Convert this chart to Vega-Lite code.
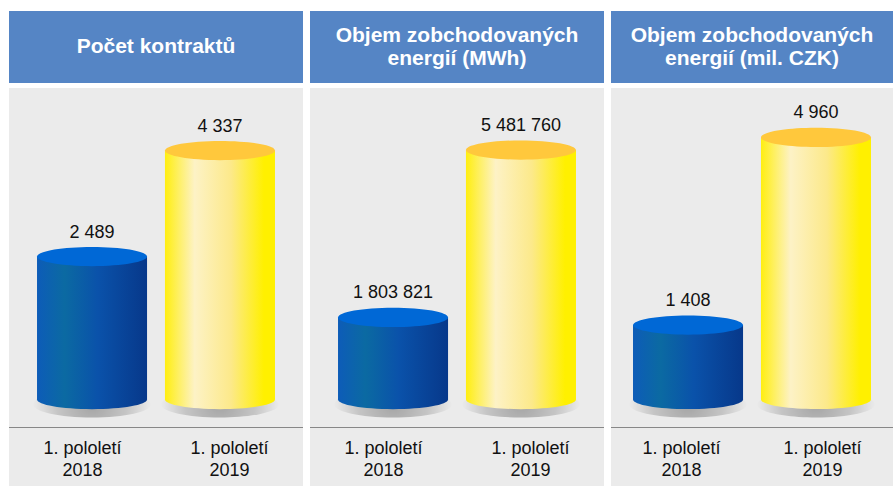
{
  "$schema": "https://vega.github.io/schema/vega-lite/v6.json",
  "background": "white",
  "padding": {"left": 9, "top": 11, "right": 0, "bottom": 0},
  "datasets": {
    "bars": [
      {"panel": "A", "period": "2018", "value": 2489, "label": "2 489", "category": ["1. pololetí", "2018"]},
      {"panel": "A", "period": "2019", "value": 4337, "label": "4 337", "category": ["1. pololetí", "2019"]},
      {"panel": "B", "period": "2018", "value": 1803821, "label": "1 803 821", "category": ["1. pololetí", "2018"]},
      {"panel": "B", "period": "2019", "value": 5481760, "label": "5 481 760", "category": ["1. pololetí", "2019"]},
      {"panel": "C", "period": "2018", "value": 1408, "label": "1 408", "category": ["1. pololetí", "2018"]},
      {"panel": "C", "period": "2019", "value": 4960, "label": "4 960", "category": ["1. pololetí", "2019"]}
    ],
    "headers": [
      {"panel": "A", "title": "Počet kontraktů"},
      {"panel": "B", "title": ["Objem zobchodovaných", "energií (MWh)"]},
      {"panel": "C", "title": ["Objem zobchodovaných", "energií (mil. CZK)"]}
    ]
  },
  "spacing": 7,
  "hconcat": [
    {
      "spacing": 5,
      "vconcat": [
        {
          "data": {"name": "headers"},
          "transform": [{"filter": "datum.panel == 'A'"}],
          "width": 294, "height": 72,
          "view": {"fill": "#5585c5", "stroke": null},
          "mark": {"type": "text", "font": "Liberation Sans, Arial, sans-serif", "fontWeight": "bold", "fontSize": 21, "color": "white", "lineHeight": 23, "align": "center", "baseline": "middle", "dy": 0},
          "encoding": {"text": {"field": "title"}}
        },
        {
          "spacing": 0,
          "vconcat": [
            {
              "data": {"name": "bars"},
              "transform": [{"filter": "datum.panel == 'A'"}],
              "width": 294, "height": 339,
              "view": {"fill": "#ebebeb", "stroke": null},
              "encoding": {
                "x": {"field": "period", "type": "nominal", "sort": null, "scale": {"paddingInner": 0.14, "paddingOuter": 0.219}, "axis": null},
                "y": {"field": "value", "type": "quantitative", "scale": {"domain": [-479, 5426]}, "axis": null}
              },
              "layer": [
                {
                  "mark": {"type": "point", "shape": "M -1 0 A 1 0.22 0 1 1 1 0 A 1 0.22 0 1 1 -1 0 Z", "size": 13900, "filled": true, "opacity": 1, "yOffset": 5,
                    "fill": {"gradient": "radial", "x1": 0.5, "y1": 0.5, "r1": 0, "x2": 0.5, "y2": 0.5, "r2": 0.5, "stops": [{"offset": 0, "color": "rgba(0,0,0,0.30)"}, {"offset": 0.6, "color": "rgba(0,0,0,0.16)"}, {"offset": 1, "color": "rgba(0,0,0,0)"}]}},
                  "encoding": {"y": {"datum": 0, "type": "quantitative"}}
                },
                {
                  "transform": [{"filter": "datum.period == '2018'"}],
                  "mark": {"type": "bar", "fill": {"gradient": "linear", "x1": 0, "y1": 0, "x2": 1, "y2": 0, "stops": [{"offset": 0, "color": "#0d5cb8"}, {"offset": 0.25, "color": "#0b6aa2"}, {"offset": 0.55, "color": "#0a52aa"}, {"offset": 1, "color": "#07388a"}]}},
                  "encoding": {"y2": {"datum": 0}}
                },
                {
                  "transform": [{"filter": "datum.period == '2019'"}],
                  "mark": {"type": "bar", "fill": {"gradient": "linear", "x1": 0, "y1": 0, "x2": 1, "y2": 0, "stops": [{"offset": 0, "color": "#ffee10"}, {"offset": 0.27, "color": "#fdf2c6"}, {"offset": 0.6, "color": "#fce98a"}, {"offset": 0.9, "color": "#fff000"}, {"offset": 1, "color": "#fff000"}]}},
                  "encoding": {"y2": {"datum": 0}}
                },
                {
                  "transform": [{"filter": "datum.period == '2018'"}],
                  "mark": {"type": "point", "shape": "M -1 0 A 1 0.175 0 1 1 1 0 A 1 0.175 0 1 1 -1 0 Z", "size": 12100, "filled": true, "opacity": 1, "fill": {"gradient": "linear", "x1": 0, "y1": 0, "x2": 1, "y2": 0, "stops": [{"offset": 0, "color": "#0d5cb8"}, {"offset": 0.25, "color": "#0b6aa2"}, {"offset": 0.55, "color": "#0a52aa"}, {"offset": 1, "color": "#07388a"}]}},
                  "encoding": {"y": {"datum": 0, "type": "quantitative"}}
                },
                {
                  "transform": [{"filter": "datum.period == '2019'"}],
                  "mark": {"type": "point", "shape": "M -1 0 A 1 0.175 0 1 1 1 0 A 1 0.175 0 1 1 -1 0 Z", "size": 12100, "filled": true, "opacity": 1, "fill": {"gradient": "linear", "x1": 0, "y1": 0, "x2": 1, "y2": 0, "stops": [{"offset": 0, "color": "#ffee10"}, {"offset": 0.27, "color": "#fdf2c6"}, {"offset": 0.6, "color": "#fce98a"}, {"offset": 0.9, "color": "#fff000"}, {"offset": 1, "color": "#fff000"}]}},
                  "encoding": {"y": {"datum": 0, "type": "quantitative"}}
                },
                {
                  "mark": {"type": "point", "shape": "M -1 0 A 1 0.175 0 1 1 1 0 A 1 0.175 0 1 1 -1 0 Z", "size": 12100, "filled": true, "opacity": 1},
                  "encoding": {"fill": {"condition": {"test": "datum.period == '2018'", "value": "#0068d6"}, "value": "#ffc83c"}}
                },
                {
                  "mark": {"type": "text", "baseline": "alphabetic", "dy": -19, "fontSize": 18, "font": "Liberation Sans, Arial, sans-serif", "color": "#111111"},
                  "encoding": {"text": {"field": "label"}}
                }
              ]
            },
            {
              "data": {"name": "bars"},
              "transform": [{"filter": "datum.panel == 'A'"}],
              "width": 294, "height": 59,
              "view": {"fill": "#ebebeb", "stroke": null},
              "mark": {"type": "text", "baseline": "middle", "dy": -8, "lineHeight": 22, "fontSize": 18, "font": "Liberation Sans, Arial, sans-serif", "color": "#111111"},
              "encoding": {
                "x": {"field": "period", "type": "nominal", "sort": null, "scale": {"paddingInner": 0.14, "paddingOuter": 0.219},
                  "axis": {"orient": "top", "title": null, "labels": false, "ticks": false, "grid": false, "domain": true, "domainDash": [1, 1], "domainColor": "#222222", "domainWidth": 1}},
                "text": {"field": "category"}
              }
            }
          ]
        }
      ]
    },
    {
      "spacing": 5,
      "vconcat": [
        {
          "data": {"name": "headers"},
          "transform": [{"filter": "datum.panel == 'B'"}],
          "width": 294, "height": 72,
          "view": {"fill": "#5585c5", "stroke": null},
          "mark": {"type": "text", "font": "Liberation Sans, Arial, sans-serif", "fontWeight": "bold", "fontSize": 21, "color": "white", "lineHeight": 23, "align": "center", "baseline": "middle", "dy": -11},
          "encoding": {"text": {"field": "title"}}
        },
        {
          "spacing": 0,
          "vconcat": [
            {
              "data": {"name": "bars"},
              "transform": [{"filter": "datum.panel == 'B'"}],
              "width": 294, "height": 339,
              "view": {"fill": "#ebebeb", "stroke": null},
              "encoding": {
                "x": {"field": "period", "type": "nominal", "sort": null, "scale": {"paddingInner": 0.14, "paddingOuter": 0.219}, "axis": null},
                "y": {"field": "value", "type": "quantitative", "scale": {"domain": [-604200, 6843962]}, "axis": null}
              },
              "layer": [
                {
                  "mark": {"type": "point", "shape": "M -1 0 A 1 0.22 0 1 1 1 0 A 1 0.22 0 1 1 -1 0 Z", "size": 13900, "filled": true, "opacity": 1, "yOffset": 5,
                    "fill": {"gradient": "radial", "x1": 0.5, "y1": 0.5, "r1": 0, "x2": 0.5, "y2": 0.5, "r2": 0.5, "stops": [{"offset": 0, "color": "rgba(0,0,0,0.30)"}, {"offset": 0.6, "color": "rgba(0,0,0,0.16)"}, {"offset": 1, "color": "rgba(0,0,0,0)"}]}},
                  "encoding": {"y": {"datum": 0, "type": "quantitative"}}
                },
                {
                  "transform": [{"filter": "datum.period == '2018'"}],
                  "mark": {"type": "bar", "fill": {"gradient": "linear", "x1": 0, "y1": 0, "x2": 1, "y2": 0, "stops": [{"offset": 0, "color": "#0d5cb8"}, {"offset": 0.25, "color": "#0b6aa2"}, {"offset": 0.55, "color": "#0a52aa"}, {"offset": 1, "color": "#07388a"}]}},
                  "encoding": {"y2": {"datum": 0}}
                },
                {
                  "transform": [{"filter": "datum.period == '2019'"}],
                  "mark": {"type": "bar", "fill": {"gradient": "linear", "x1": 0, "y1": 0, "x2": 1, "y2": 0, "stops": [{"offset": 0, "color": "#ffee10"}, {"offset": 0.27, "color": "#fdf2c6"}, {"offset": 0.6, "color": "#fce98a"}, {"offset": 0.9, "color": "#fff000"}, {"offset": 1, "color": "#fff000"}]}},
                  "encoding": {"y2": {"datum": 0}}
                },
                {
                  "transform": [{"filter": "datum.period == '2018'"}],
                  "mark": {"type": "point", "shape": "M -1 0 A 1 0.175 0 1 1 1 0 A 1 0.175 0 1 1 -1 0 Z", "size": 12100, "filled": true, "opacity": 1, "fill": {"gradient": "linear", "x1": 0, "y1": 0, "x2": 1, "y2": 0, "stops": [{"offset": 0, "color": "#0d5cb8"}, {"offset": 0.25, "color": "#0b6aa2"}, {"offset": 0.55, "color": "#0a52aa"}, {"offset": 1, "color": "#07388a"}]}},
                  "encoding": {"y": {"datum": 0, "type": "quantitative"}}
                },
                {
                  "transform": [{"filter": "datum.period == '2019'"}],
                  "mark": {"type": "point", "shape": "M -1 0 A 1 0.175 0 1 1 1 0 A 1 0.175 0 1 1 -1 0 Z", "size": 12100, "filled": true, "opacity": 1, "fill": {"gradient": "linear", "x1": 0, "y1": 0, "x2": 1, "y2": 0, "stops": [{"offset": 0, "color": "#ffee10"}, {"offset": 0.27, "color": "#fdf2c6"}, {"offset": 0.6, "color": "#fce98a"}, {"offset": 0.9, "color": "#fff000"}, {"offset": 1, "color": "#fff000"}]}},
                  "encoding": {"y": {"datum": 0, "type": "quantitative"}}
                },
                {
                  "mark": {"type": "point", "shape": "M -1 0 A 1 0.175 0 1 1 1 0 A 1 0.175 0 1 1 -1 0 Z", "size": 12100, "filled": true, "opacity": 1},
                  "encoding": {"fill": {"condition": {"test": "datum.period == '2018'", "value": "#0068d6"}, "value": "#ffc83c"}}
                },
                {
                  "mark": {"type": "text", "baseline": "alphabetic", "dy": -19, "fontSize": 18, "font": "Liberation Sans, Arial, sans-serif", "color": "#111111"},
                  "encoding": {"text": {"field": "label"}}
                }
              ]
            },
            {
              "data": {"name": "bars"},
              "transform": [{"filter": "datum.panel == 'B'"}],
              "width": 294, "height": 59,
              "view": {"fill": "#ebebeb", "stroke": null},
              "mark": {"type": "text", "baseline": "middle", "dy": -8, "lineHeight": 22, "fontSize": 18, "font": "Liberation Sans, Arial, sans-serif", "color": "#111111"},
              "encoding": {
                "x": {"field": "period", "type": "nominal", "sort": null, "scale": {"paddingInner": 0.14, "paddingOuter": 0.219},
                  "axis": {"orient": "top", "title": null, "labels": false, "ticks": false, "grid": false, "domain": true, "domainDash": [1, 1], "domainColor": "#222222", "domainWidth": 1}},
                "text": {"field": "category"}
              }
            }
          ]
        }
      ]
    },
    {
      "spacing": 5,
      "vconcat": [
        {
          "data": {"name": "headers"},
          "transform": [{"filter": "datum.panel == 'C'"}],
          "width": 282, "height": 72,
          "view": {"fill": "#5585c5", "stroke": null},
          "mark": {"type": "text", "font": "Liberation Sans, Arial, sans-serif", "fontWeight": "bold", "fontSize": 21, "color": "white", "lineHeight": 23, "align": "center", "baseline": "middle", "dy": -11},
          "encoding": {"text": {"field": "title"}}
        },
        {
          "spacing": 0,
          "vconcat": [
            {
              "data": {"name": "bars"},
              "transform": [{"filter": "datum.panel == 'C'"}],
              "width": 282, "height": 339,
              "view": {"fill": "#ebebeb", "stroke": null},
              "encoding": {
                "x": {"field": "period", "type": "nominal", "sort": null, "scale": {"paddingInner": 0.14, "paddingOuter": 0.172}, "axis": null},
                "y": {"field": "value", "type": "quantitative", "scale": {"domain": [-521, 5897]}, "axis": null}
              },
              "layer": [
                {
                  "mark": {"type": "point", "shape": "M -1 0 A 1 0.22 0 1 1 1 0 A 1 0.22 0 1 1 -1 0 Z", "size": 13900, "filled": true, "opacity": 1, "yOffset": 5,
                    "fill": {"gradient": "radial", "x1": 0.5, "y1": 0.5, "r1": 0, "x2": 0.5, "y2": 0.5, "r2": 0.5, "stops": [{"offset": 0, "color": "rgba(0,0,0,0.30)"}, {"offset": 0.6, "color": "rgba(0,0,0,0.16)"}, {"offset": 1, "color": "rgba(0,0,0,0)"}]}},
                  "encoding": {"y": {"datum": 0, "type": "quantitative"}}
                },
                {
                  "transform": [{"filter": "datum.period == '2018'"}],
                  "mark": {"type": "bar", "fill": {"gradient": "linear", "x1": 0, "y1": 0, "x2": 1, "y2": 0, "stops": [{"offset": 0, "color": "#0d5cb8"}, {"offset": 0.25, "color": "#0b6aa2"}, {"offset": 0.55, "color": "#0a52aa"}, {"offset": 1, "color": "#07388a"}]}},
                  "encoding": {"y2": {"datum": 0}}
                },
                {
                  "transform": [{"filter": "datum.period == '2019'"}],
                  "mark": {"type": "bar", "fill": {"gradient": "linear", "x1": 0, "y1": 0, "x2": 1, "y2": 0, "stops": [{"offset": 0, "color": "#ffee10"}, {"offset": 0.27, "color": "#fdf2c6"}, {"offset": 0.6, "color": "#fce98a"}, {"offset": 0.9, "color": "#fff000"}, {"offset": 1, "color": "#fff000"}]}},
                  "encoding": {"y2": {"datum": 0}}
                },
                {
                  "transform": [{"filter": "datum.period == '2018'"}],
                  "mark": {"type": "point", "shape": "M -1 0 A 1 0.175 0 1 1 1 0 A 1 0.175 0 1 1 -1 0 Z", "size": 12100, "filled": true, "opacity": 1, "fill": {"gradient": "linear", "x1": 0, "y1": 0, "x2": 1, "y2": 0, "stops": [{"offset": 0, "color": "#0d5cb8"}, {"offset": 0.25, "color": "#0b6aa2"}, {"offset": 0.55, "color": "#0a52aa"}, {"offset": 1, "color": "#07388a"}]}},
                  "encoding": {"y": {"datum": 0, "type": "quantitative"}}
                },
                {
                  "transform": [{"filter": "datum.period == '2019'"}],
                  "mark": {"type": "point", "shape": "M -1 0 A 1 0.175 0 1 1 1 0 A 1 0.175 0 1 1 -1 0 Z", "size": 12100, "filled": true, "opacity": 1, "fill": {"gradient": "linear", "x1": 0, "y1": 0, "x2": 1, "y2": 0, "stops": [{"offset": 0, "color": "#ffee10"}, {"offset": 0.27, "color": "#fdf2c6"}, {"offset": 0.6, "color": "#fce98a"}, {"offset": 0.9, "color": "#fff000"}, {"offset": 1, "color": "#fff000"}]}},
                  "encoding": {"y": {"datum": 0, "type": "quantitative"}}
                },
                {
                  "mark": {"type": "point", "shape": "M -1 0 A 1 0.175 0 1 1 1 0 A 1 0.175 0 1 1 -1 0 Z", "size": 12100, "filled": true, "opacity": 1},
                  "encoding": {"fill": {"condition": {"test": "datum.period == '2018'", "value": "#0068d6"}, "value": "#ffc83c"}}
                },
                {
                  "mark": {"type": "text", "baseline": "alphabetic", "dy": -19, "fontSize": 18, "font": "Liberation Sans, Arial, sans-serif", "color": "#111111"},
                  "encoding": {"text": {"field": "label"}}
                }
              ]
            },
            {
              "data": {"name": "bars"},
              "transform": [{"filter": "datum.panel == 'C'"}],
              "width": 282, "height": 59,
              "view": {"fill": "#ebebeb", "stroke": null},
              "mark": {"type": "text", "baseline": "middle", "dy": -8, "lineHeight": 22, "fontSize": 18, "font": "Liberation Sans, Arial, sans-serif", "color": "#111111"},
              "encoding": {
                "x": {"field": "period", "type": "nominal", "sort": null, "scale": {"paddingInner": 0.14, "paddingOuter": 0.172},
                  "axis": {"orient": "top", "title": null, "labels": false, "ticks": false, "grid": false, "domain": true, "domainDash": [1, 1], "domainColor": "#222222", "domainWidth": 1}},
                "text": {"field": "category"}
              }
            }
          ]
        }
      ]
    }
  ],
  "config": {"view": {"stroke": null}}
}
